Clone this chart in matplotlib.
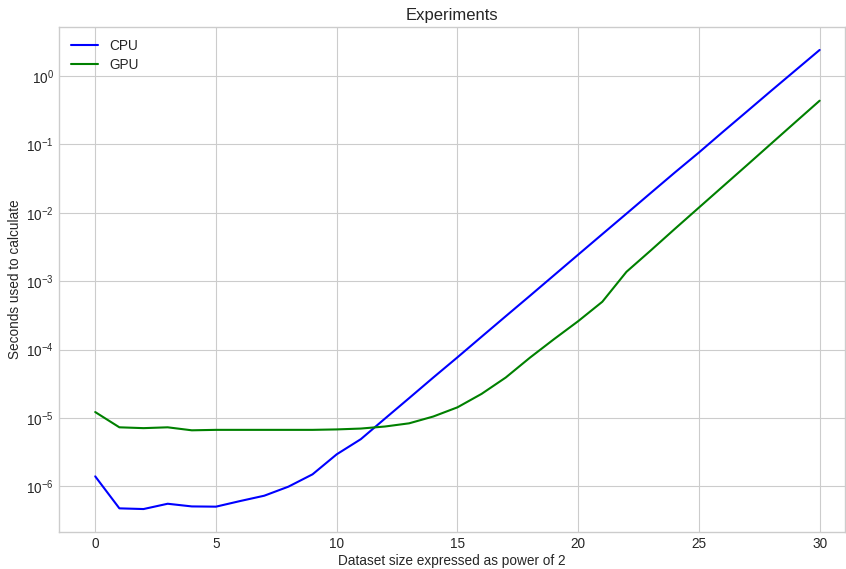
import matplotlib
matplotlib.use("Agg")
import matplotlib.pyplot as plt

plt.style.use("seaborn-v0_8-whitegrid")
plt.rcParams["font.family"] = ["Liberation Sans", "DejaVu Sans"]
plt.rcParams["font.size"] = 9.8

powers = list(range(31))
cpu_seconds = [
    1.40e-6, 4.77e-7, 4.66e-7, 5.57e-7, 5.09e-7, 5.05e-7, 6.10e-7, 7.30e-7,
    9.90e-7, 1.50e-6, 2.94e-6, 4.90e-6, 9.80e-6, 1.95e-5, 3.90e-5, 7.70e-5,
    1.54e-4, 3.07e-4, 6.10e-4, 1.22e-3, 2.44e-3, 4.87e-3, 9.70e-3, 1.94e-2,
    3.87e-2, 7.60e-2, 1.53e-1, 3.05e-1, 6.10e-1, 1.21, 2.40,
]
gpu_seconds = [
    1.22e-5, 7.30e-6, 7.10e-6, 7.30e-6, 6.60e-6, 6.70e-6, 6.70e-6, 6.70e-6,
    6.70e-6, 6.70e-6, 6.80e-6, 7.00e-6, 7.50e-6, 8.35e-6, 1.05e-5, 1.43e-5,
    2.25e-5, 3.90e-5, 7.60e-5, 1.42e-4, 2.60e-4, 5.00e-4, 1.37e-3, 2.80e-3,
    5.80e-3, 1.19e-2, 2.44e-2, 5.00e-2, 1.03e-1, 2.12e-1, 4.35e-1,
]

fig = plt.figure(figsize=(8.46, 5.69), dpi=100)
ax = fig.add_axes([59 / 846, 37 / 569, 786 / 846, 505 / 569])

ax.plot(powers, cpu_seconds, color="blue", lw=1.5, label="CPU")
ax.plot(powers, gpu_seconds, color="green", lw=1.5, label="GPU")
ax.set_yscale("log")
ax.set_xlim(-1.5, 31.05)
ax.set_xticks([0, 5, 10, 15, 20, 25, 30])

ax.set_title("Experiments", fontsize=12, pad=5)
ax.set_xlabel("Dataset size expressed as power of 2", labelpad=2.5)
ax.set_ylabel("Seconds used to calculate", labelpad=3)
ax.legend(loc="upper left", labelspacing=0.35)

for spine in ax.spines.values():
    spine.set_visible(True)
    spine.set_color("#cccccc")

fig.savefig("out.png", dpi=100)
